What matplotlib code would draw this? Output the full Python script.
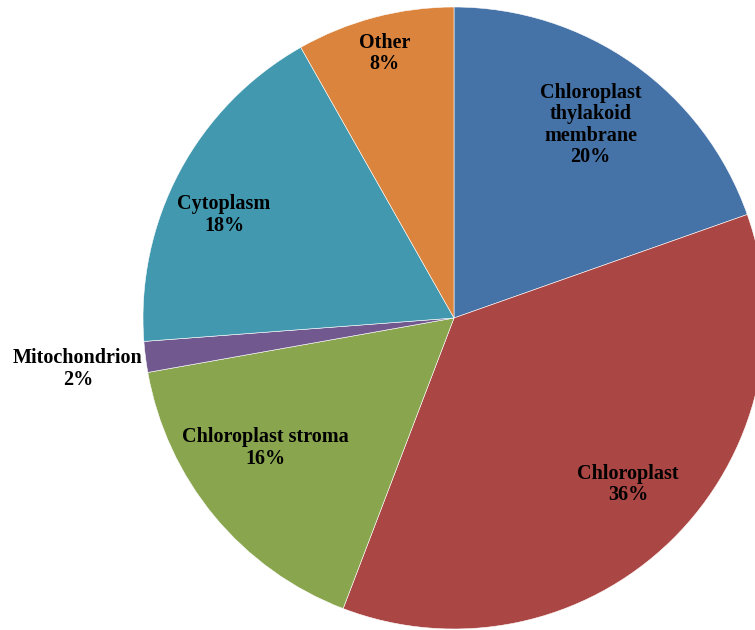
import numpy as np
import matplotlib.pyplot as plt

categories = ['Chloroplast\nthylakoid\nmembrane', 'Chloroplast', 'Chloroplast stroma',
              'Mitochondrion', 'Cytoplasm', 'Other']
shares = [19.6, 36.2, 16.4, 1.6, 18.0, 8.2]
pct_labels = ['20%', '36%', '16%', '2%', '18%', '8%']

colors = ['#4572A7', '#AA4643', '#89A54E', '#71588F', '#4198AF', '#DB843D']
# label placement: fraction of radius and angular nudge (deg) per slice
label_dist = [0.76, 0.775, 0.735, 1.22, 0.81, 0.88]
label_turn = [0, 2, -5, 0.5, 4, 0]

fig = plt.figure(figsize=(7.55, 6.3), dpi=100)
ax = fig.add_axes([0, 0, 1, 1])

cx, cy, r = 454, 312, 311
wedges, _ = ax.pie(shares, colors=colors, startangle=90, counterclock=False,
                   center=(cx, cy), radius=r, frame=True,
                   wedgeprops=dict(linewidth=0.4, edgecolor='white'))
ax.set_xlim(0, 755)
ax.set_ylim(0, 630)
ax.set_aspect('equal')
ax.axis('off')

for w, cat, pct, d, t in zip(wedges, categories, pct_labels, label_dist, label_turn):
    ang = np.deg2rad((w.theta1 + w.theta2) / 2 + t)
    x = cx + d * r * np.cos(ang)
    y = cy + d * r * np.sin(ang)
    ax.text(x, y, f'{cat}\n{pct}', ha='center', va='center', fontsize=14.5,
            fontweight='bold', family='Liberation Serif', linespacing=1.1)

fig.savefig('out.png', dpi=100)
